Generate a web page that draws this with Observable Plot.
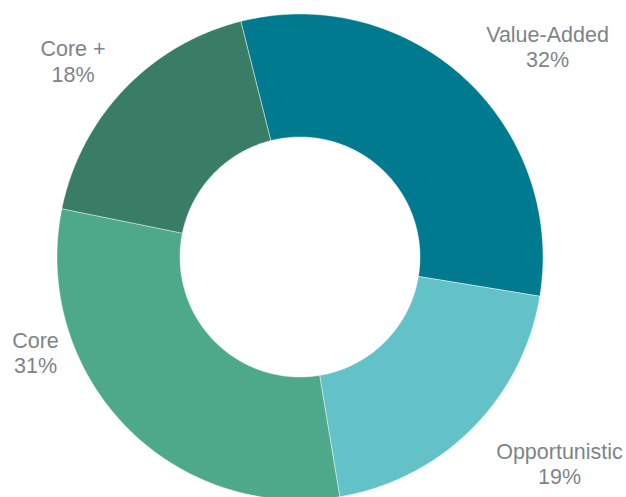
<!DOCTYPE html>
<html>
<head>
<meta charset="utf-8">
<script src="https://cdn.jsdelivr.net/npm/d3@7"></script>
<script src="https://cdn.jsdelivr.net/npm/@observablehq/plot@0.6"></script>
<style>
  html, body { margin: 0; padding: 0; background: #ffffff; }
  #chart { width: 626px; height: 497px; }
</style>
</head>
<body>
<div id="chart"></div>
<script>
// ---- data ----
const categories = ["Value-Added", "Opportunistic", "Core", "Core +"];
const shares = [31.5, 19.8, 30.8, 17.9];          // slice sizes
const labelPercents = [32, 19, 31, 18];           // percentages printed in the labels
const sliceColors = ["#007a8e", "#62c2c8", "#4da98a", "#3a7d67"];

// ---- layout (not data) ----
const W = 626, H = 497;
const cx = 299.5, cy = 256.5, outerR = 243, innerR = 120;
const startDeg = -14.1;
const labelPos = [[547, 46], [559, 463], [35, 352], [72.5, 60.5]];

const pie = d3.pie().sort(null).value(d => d.share)
  .startAngle(startDeg * Math.PI / 180)
  .endAngle(startDeg * Math.PI / 180 + 2 * Math.PI);

const table = categories.map((c, i) => ({category: c, share: shares[i]}));
const arcs = pie(table);

// polygon outline of each donut slice, derived from the pie angles
const pts = [];
const N = 180;
for (const a of arcs) {
  const ring = [];
  for (let k = 0; k <= N; k++) {
    const t = a.startAngle + (a.endAngle - a.startAngle) * k / N;
    ring.push({category: a.data.category, x: cx + outerR * Math.sin(t), y: cy - outerR * Math.cos(t)});
  }
  for (let k = N; k >= 0; k--) {
    const t = a.startAngle + (a.endAngle - a.startAngle) * k / N;
    ring.push({category: a.data.category, x: cx + innerR * Math.sin(t), y: cy - innerR * Math.cos(t)});
  }
  ring.push(ring[0]);
  pts.push(...ring);
}

const labels = categories.map((c, i) => ({
  text: `${c}\n${labelPercents[i]}%`, x: labelPos[i][0], y: labelPos[i][1]
}));

const chart = Plot.plot({
  width: W,
  height: H,
  margin: 0,
  style: {background: "#ffffff", fontFamily: "'Liberation Sans', Arial, sans-serif"},
  x: {domain: [0, W], range: [0, W], axis: null},
  y: {domain: [0, H], range: [0, H], axis: null},
  color: {domain: categories, range: sliceColors},
  marks: [
    Plot.line(pts, {
      x: "x", y: "y", z: "category", fill: "category",
      stroke: "#ffffff", strokeWidth: 0.8, strokeOpacity: 0.55, curve: "linear"
    }),
    Plot.text(labels, {
      x: "x", y: "y", text: "text",
      fill: "#7d8589", fontSize: 21.5, lineHeight: 1.18,
      textAnchor: "middle", lineAnchor: "middle"
    })
  ]
});

document.getElementById("chart").appendChild(chart);
</script>
</body>
</html>
